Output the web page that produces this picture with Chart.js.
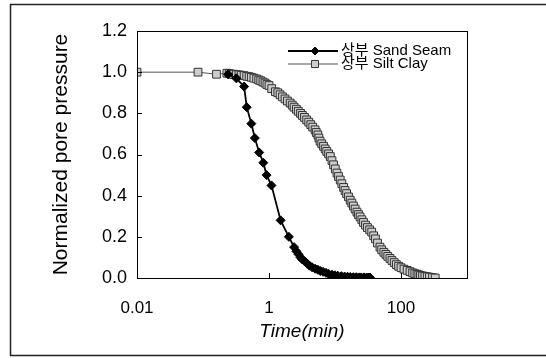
<!DOCTYPE html>
<html>
<head>
<meta charset="utf-8">
<script src="https://cdn.jsdelivr.net/npm/chart.js@4/dist/chart.umd.min.js"></script>
<style>
  html, body { margin: 0; padding: 0; background: #fff; }
  #wrap { width: 546px; height: 358px; position: relative; }
</style>
</head>
<body>
<div id="wrap"><canvas id="poreChart"></canvas></div>
<script>
// values
const sandTime  = [0.24, 0.32, 0.42, 0.46, 0.54, 0.61, 0.71, 0.82, 0.92, 1.09, 1.5, 2.0, 2.4, 2.6, 2.8, 3.0, 3.2, 3.5, 3.8, 4.1, 4.5, 5, 5.5, 6, 6.6, 7.3, 8, 9, 10, 11, 12.5, 14, 15.5, 17, 19, 21, 23, 25, 27.5, 30, 32, 34];
const sandValue = [0.99, 0.97, 0.93, 0.83, 0.75, 0.68, 0.61, 0.56, 0.50, 0.45, 0.28, 0.20, 0.15, 0.13, 0.115, 0.10, 0.09, 0.08, 0.07, 0.06, 0.052, 0.045, 0.04, 0.034, 0.03, 0.025, 0.02, 0.016, 0.013, 0.011, 0.009, 0.007, 0.006, 0.005, 0.004, 0.004, 0.003, 0.003, 0.003, 0.002, 0.002, 0.002];

const siltTime  = [0.01, 0.084, 0.16, 0.23, 0.25, 0.27, 0.29, 0.32, 0.35, 0.38, 0.42, 0.46, 0.5, 0.54, 0.59, 0.65, 0.7, 0.75, 0.81, 0.87, 0.93, 1.0, 1.1, 1.25, 1.36, 1.47, 1.6, 1.75, 1.9, 2.09, 2.25, 2.4, 2.6, 2.78, 3.0, 3.2, 3.45, 3.72, 4.0, 4.3, 4.6, 4.99, 5.2, 5.5, 5.7, 5.94, 6.3, 6.7, 7.1, 7.5, 8.0, 8.5, 9.0, 9.5, 10.1, 10.7, 11.3, 12, 12.7, 13.5, 14.2, 15, 16, 17, 18, 19, 20.2, 21.5, 22.7, 24, 25.5, 27, 29, 31, 33.5, 36, 38.5, 41, 44, 48, 51, 55, 59, 63, 68, 73, 79, 85, 92, 100, 111, 124, 137, 150, 162, 175, 186, 197, 212, 230, 250, 270, 300, 330];
const siltValue = [1.0, 1.0, 0.99, 0.995, 0.993, 0.99, 0.99, 0.988, 0.987, 0.985, 0.983, 0.98, 0.978, 0.975, 0.971, 0.967, 0.962, 0.958, 0.952, 0.947, 0.94, 0.935, 0.92, 0.905, 0.9, 0.89, 0.88, 0.87, 0.86, 0.85, 0.84, 0.83, 0.82, 0.81, 0.8, 0.79, 0.78, 0.768, 0.757, 0.745, 0.733, 0.72, 0.707, 0.695, 0.68, 0.665, 0.652, 0.64, 0.627, 0.615, 0.603, 0.59, 0.57, 0.55, 0.53, 0.51, 0.493, 0.476, 0.458, 0.44, 0.425, 0.41, 0.394, 0.378, 0.364, 0.35, 0.335, 0.32, 0.308, 0.297, 0.283, 0.27, 0.257, 0.245, 0.234, 0.223, 0.205, 0.19, 0.17, 0.15, 0.137, 0.125, 0.115, 0.105, 0.095, 0.085, 0.075, 0.065, 0.057, 0.05, 0.043, 0.037, 0.031, 0.025, 0.021, 0.018, 0.015, 0.012, 0.01, 0.008, 0.006, 0.004, 0.002, 0.0];

const seriesNames = ['상부 Sand Seam', '상부 Silt Clay'];
const xTickValues = [0.01, 1, 100];
const xTickLabels = ['0.01', '1', '100'];

const FONT = "'Liberation Sans', Arial, 'Noto Sans CJK KR', sans-serif";

const toPoints = (xs, ys) => xs.map((x, i) => ({ x: x, y: ys[i] }));

// outer frame of the figure
const framePlugin = {
  id: 'frame',
  beforeDraw(chart) {
    const ctx = chart.ctx;
    ctx.save();
    ctx.strokeStyle = '#222';
    ctx.lineWidth = 1.5;
    ctx.beginPath();
    ctx.moveTo(chart.width, 4.5);
    ctx.lineTo(10.5, 4.5);
    ctx.lineTo(10.5, 355.5);
    ctx.lineTo(chart.width, 355.5);
    ctx.stroke();
    ctx.restore();
  }
};

// plot box, inside tick marks and legend
const boxPlugin = {
  id: 'box',
  afterDraw(chart) {
    const ctx = chart.ctx;
    const a = chart.chartArea;
    const xs = chart.scales.x, ys = chart.scales.y;
    ctx.save();
    ctx.strokeStyle = '#000';
    ctx.lineWidth = 1;
    ctx.strokeRect(Math.round(a.left) + 0.5, Math.round(a.top) + 0.5, Math.round(a.right - a.left), Math.round(a.bottom - a.top));

    ctx.beginPath();
    ys.ticks.forEach(t => {
      const py = Math.round(ys.getPixelForValue(t.value)) + 0.5;
      ctx.moveTo(a.left, py);
      ctx.lineTo(a.left + 5, py);
    });
    xs.ticks.forEach(t => {
      const px = Math.round(xs.getPixelForValue(t.value)) + 0.5;
      ctx.moveTo(px, a.bottom);
      ctx.lineTo(px, a.bottom - 5);
    });
    ctx.stroke();

    // legend
    const x0 = a.right - 179;
    chart.data.datasets.forEach((ds, i) => {
      const y = a.top + 20 + i * 13;
      ctx.strokeStyle = ds.borderColor;
      ctx.lineWidth = ds.borderWidth;
      ctx.beginPath();
      ctx.moveTo(x0, y);
      ctx.lineTo(x0 + 50, y);
      ctx.stroke();
      ctx.fillStyle = ds.pointBackgroundColor;
      ctx.strokeStyle = ds.pointBorderColor;
      ctx.lineWidth = ds.pointBorderWidth;
      Chart.helpers.drawPoint(ctx, { pointStyle: ds.pointStyle, radius: ds.pointRadius - 0.5, rotation: 0, borderWidth: ds.pointBorderWidth }, x0 + 27, y);
      ctx.fillStyle = '#000';
      ctx.font = '15px ' + FONT;
      ctx.textAlign = 'left';
      ctx.textBaseline = 'middle';
      ctx.fillText(ds.label, x0 + 53, y);
    });
    ctx.restore();
  }
};

const ctx = document.getElementById('poreChart').getContext('2d');
new Chart(ctx, {
  type: 'line',
  data: {
    datasets: [
      {
        label: seriesNames[0],
        data: toPoints(sandTime, sandValue),
        borderColor: '#000',
        borderWidth: 1.8,
        pointStyle: 'rectRot',
        pointRadius: 4.5,
        pointBackgroundColor: '#000',
        pointBorderColor: '#000',
        pointBorderWidth: 1,
        tension: 0
      },
      {
        label: seriesNames[1],
        data: toPoints(siltTime, siltValue),
        borderColor: '#555',
        borderWidth: 1,
        pointStyle: 'rect',
        pointRadius: 5.5,
        pointBackgroundColor: '#cdcdcd',
        pointBorderColor: '#333',
        pointBorderWidth: 1,
        tension: 0
      }
    ]
  },
  options: {
    responsive: true,
    maintainAspectRatio: false,
    animation: false,
    layout: { padding: { left: 0, top: 31, right: 79, bottom: 0 } },
    scales: {
      x: {
        type: 'logarithmic',
        min: 0.01,
        max: 1000,
        afterBuildTicks: scale => { scale.ticks = xTickValues.map(v => ({ value: v })); },
        afterFit: scale => { scale.height = 80; },
        grid: { display: false, drawTicks: false },
        border: { display: true, color: '#000', width: 1 },
        ticks: {
          color: '#000',
          font: { family: FONT, size: 17 },
          padding: 20,
          autoSkip: false,
          maxRotation: 0,
          callback: value => xTickLabels[xTickValues.indexOf(value)] ?? ''
        },
        title: {
          display: true,
          text: 'Time(min)',
          color: '#000',
          font: { family: FONT, size: 19, style: 'italic' },
          padding: { top: 0, bottom: 15 }
        }
      },
      y: {
        min: 0,
        max: 1.2,
        afterFit: scale => { scale.width = 137; },
        grid: { display: false, drawTicks: false },
        border: { display: true, color: '#000', width: 1 },
        ticks: {
          stepSize: 0.2,
          color: '#000',
          font: { family: FONT, size: 18 },
          padding: 10,
          callback: value => value.toFixed(1)
        },
        title: {
          display: true,
          text: 'Normalized pore pressure',
          color: '#000',
          font: { family: FONT, size: 21 },
          padding: { top: 49, bottom: 0 }
        }
      }
    },
    plugins: {
      legend: { display: false },
      tooltip: { enabled: false }
    }
  },
  plugins: [framePlugin, boxPlugin]
});
</script>
</body>
</html>
